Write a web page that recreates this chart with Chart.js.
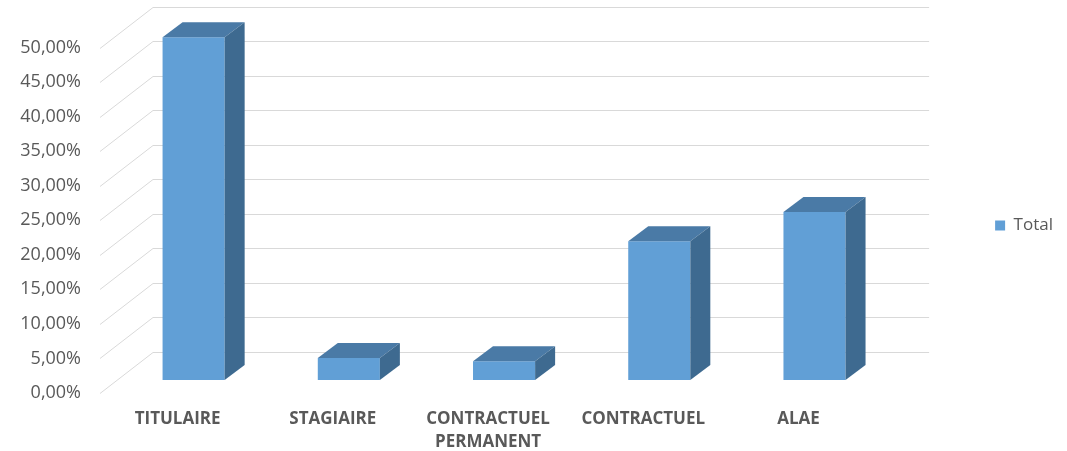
<!DOCTYPE html>
<html>
<head>
<meta charset="utf-8">
<script src="https://cdn.jsdelivr.net/npm/chart.js@4.4.1/dist/chart.umd.min.js"></script>
<style>
    html, body { margin: 0; padding: 0; background: #fff; }
    #wrap { width: 1067px; height: 451px; }
</style>
</head>
<body>
<div id="wrap"><canvas id="chart"></canvas></div>
<script>
const categories = ["TITULAIRE", "STAGIAIRE", ["CONTRACTUEL", "PERMANENT"], "CONTRACTUEL", "ALAE"];
const totalValues = [49.6, 3.2, 2.7, 20.1, 24.3];
const yTicks = [0, 5, 10, 15, 20, 25, 30, 35, 40, 45, 50];

const FRONT = "#619fd6";
const TOP = "#4a7aa6";
const SIDE = "#3e6a90";
const GRID = "#d9d9d9";

// fake 3D: back wall lines + side wall diagonals, then depth faces on bars
const depth3d = {
    id: "depth3d",
    beforeDatasetsDraw(chart) {
        const { ctx, chartArea, scales } = chart;
        const y = scales.y;
        ctx.save();
        ctx.strokeStyle = GRID;
        ctx.lineWidth = 1;
        yTicks.forEach((v) => {
            const py = Math.round(y.getPixelForValue(v)) + 0.5;
            ctx.beginPath();
            ctx.moveTo(chartArea.left - 16, py + 13);
            ctx.lineTo(chartArea.left + 37, py - 28);
            ctx.lineTo(chartArea.right + 37, py - 28);
            ctx.stroke();
        });
        ctx.restore();
    },
    afterDatasetsDraw(chart) {
        const { ctx } = chart;
        const dx = 20;
        const dy = -15;
        ctx.save();
        chart.getDatasetMeta(0).data.forEach((bar) => {
            const l = bar.x - bar.width / 2;
            const r = bar.x + bar.width / 2;
            ctx.fillStyle = TOP;
            ctx.beginPath();
            ctx.moveTo(l, bar.y);
            ctx.lineTo(r, bar.y);
            ctx.lineTo(r + dx, bar.y + dy);
            ctx.lineTo(l + dx, bar.y + dy);
            ctx.closePath();
            ctx.fill();
            ctx.fillStyle = SIDE;
            ctx.beginPath();
            ctx.moveTo(r, bar.y);
            ctx.lineTo(r + dx, bar.y + dy);
            ctx.lineTo(r + dx, bar.base + dy);
            ctx.lineTo(r, bar.base);
            ctx.closePath();
            ctx.fill();
        });
        ctx.restore();
    },
};

new Chart(document.getElementById("chart"), {
    type: "bar",
    data: {
        labels: categories,
        datasets: [{
            label: "Total",
            data: totalValues,
            backgroundColor: FRONT,
            borderWidth: 0,
            categoryPercentage: 1,
            barPercentage: 0.4,
        }],
    },
    options: {
        responsive: true,
        maintainAspectRatio: false,
        animation: false,
        layout: { padding: { top: 0, right: 4, bottom: 0, left: 0 } },
        plugins: {
            tooltip: { enabled: false },
            legend: {
                position: "right",
                labels: {
                    boxWidth: 10,
                    boxHeight: 10,
                    padding: 103,
                    color: "#595959",
                    font: { family: "Open Sans", size: 17 },
                },
            },
        },
        scales: {
            x: {
                grid: { display: false, drawTicks: false },
                border: { display: false },
                ticks: {
                    color: "#595959",
                    padding: 28,
                    labelOffset: -16,
                    maxRotation: 0,
                    font: { family: "Open Sans", size: 17, weight: "bold", lineHeight: 1.35 },
                },
                afterFit(scale) { scale.height = 71; },
            },
            y: {
                min: 0,
                max: 55,
                grid: { display: false, drawTicks: false },
                border: { display: false },
                ticks: {
                    stepSize: 5,
                    color: "#595959",
                    padding: 35,
                    labelOffset: 13,
                    font: { family: "Open Sans", size: 18 },
                    callback: (v) => v.toFixed(2).replace(".", ",") + "%",
                },
                afterBuildTicks(scale) {
                    scale.ticks = scale.ticks.filter((t) => yTicks.includes(t.value));
                },
                afterFit(scale) {
                    scale.width = 116;
                    scale.paddingTop = 0;
                    scale.paddingBottom = 0;
                },
            },
        },
    },
    plugins: [depth3d],
});
</script>
</body>
</html>
